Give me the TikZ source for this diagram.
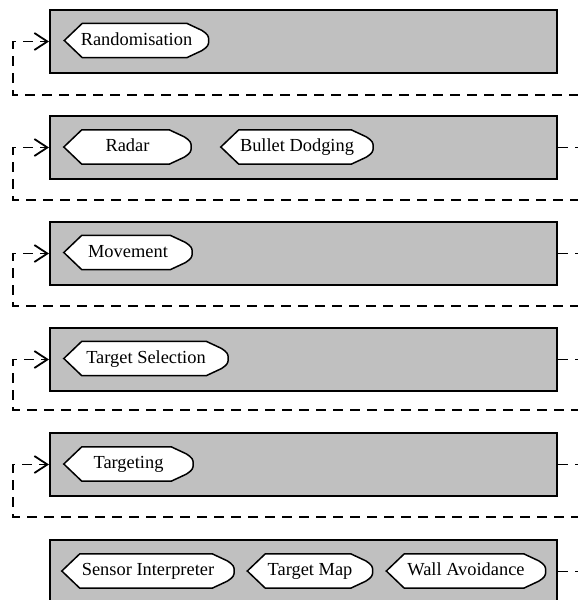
\documentclass[tikz,border=0pt]{standalone}
\usepackage{fontspec}
\setmainfont{Liberation Serif}
\usetikzlibrary{arrows.meta}
\pgfdeclarelayer{boxes}
\pgfdeclarelayer{tagbg}
\pgfsetlayers{boxes,tagbg,main}
\tikzset{
  layerbox/.style={draw=black, line width=2pt, fill=boxgray, minimum width=507pt, minimum height=63pt, inner sep=0pt, anchor=north west},
  tagnode/.style={inner sep=0pt, minimum height=34pt, text height=12.5pt, text depth=3pt, font=\fontsize{18.4}{21}\selectfont},
  tagline/.style={draw=black, line width=1.5pt, fill=white, line join=miter},
  feedback/.style={draw=black, line width=1.8pt, dash pattern=on 10pt off 7pt, -{Straight Barb[length=13pt,width=17pt,line width=1.8pt]}},
}
\definecolor{boxgray}{HTML}{C0C0C0}
\newcommand\tagshape[1]{%
  \path[tagline] (#1.west) -- ([xshift=18pt]#1.north west) -- ([xshift=-22pt]#1.north east)
    -- ([xshift=-7pt,yshift=-7pt]#1.north east)
    .. controls ([xshift=-1pt,yshift=-11pt]#1.north east) and ([yshift=5pt]#1.east) .. (#1.east)
    .. controls ([yshift=-5pt]#1.east) and ([xshift=-1pt,yshift=11pt]#1.south east) .. ([xshift=-7pt,yshift=7pt]#1.south east)
    -- ([xshift=-22pt]#1.south east) -- ([xshift=18pt]#1.south west) -- cycle;}
\begin{document}
\begin{tikzpicture}[x=1pt, y=-1pt]
\useasboundingbox (0,0) rectangle (578,600);
\clip (0,0) rectangle (578,600);
\begin{pgfonlayer}{boxes}
\node[layerbox] (b1) at (49,9) {};
\node[layerbox] (b2) at (49,115) {};
\node[layerbox] (b3) at (49,221) {};
\node[layerbox] (b4) at (49,327) {};
\node[layerbox] (b5) at (49,432) {};
\node[layerbox] (b6) at (49,539) {};
\end{pgfonlayer}
\node[tagnode, minimum width=144pt] (t1) at (136.5,40.5) {Randomisation};
\node[tagnode, minimum width=127pt] (t2a) at (127.5,147) {Radar};
\node[tagnode, minimum width=152pt] (t2b) at (297,147) {Bullet Dodging};
\node[tagnode, minimum width=128pt] (t3) at (128,252.5) {Movement};
\node[tagnode, minimum width=164pt] (t4) at (146,358.5) {Target Selection};
\node[tagnode, minimum width=129pt] (t5) at (128.5,464) {Targeting};
\node[tagnode, minimum width=172pt] (t6a) at (148,571) {Sensor Interpreter};
\node[tagnode, minimum width=125pt] (t6b) at (310,571) {Target Map};
\node[tagnode, minimum width=159pt] (t6c) at (466,571) {Wall Avoidance};
\begin{pgfonlayer}{tagbg}
\tagshape{t1}\tagshape{t2a}\tagshape{t2b}\tagshape{t3}\tagshape{t4}
\tagshape{t5}\tagshape{t6a}\tagshape{t6b}\tagshape{t6c}
\end{pgfonlayer}
\coordinate (r1) at (610,95);  \coordinate (l1) at (13,95);
\coordinate (r2) at (610,200); \coordinate (l2) at (13,200);
\coordinate (r3) at (610,306); \coordinate (l3) at (13,306);
\coordinate (r4) at (610,410); \coordinate (l4) at (13,410);
\coordinate (r5) at (610,517); \coordinate (l5) at (13,517);
\draw[feedback] (b2.east) -| (r1) -- (l1) |- (b1.west);
\draw[feedback] (b3.east) -| (r2) -- (l2) |- (b2.west);
\draw[feedback] (b4.east) -| (r3) -- (l3) |- (b3.west);
\draw[feedback] (b5.east) -| (r4) -- (l4) |- (b4.west);
\draw[feedback] (b6.east) -| (r5) -- (l5) |- (b5.west);
\end{tikzpicture}
\end{document}
